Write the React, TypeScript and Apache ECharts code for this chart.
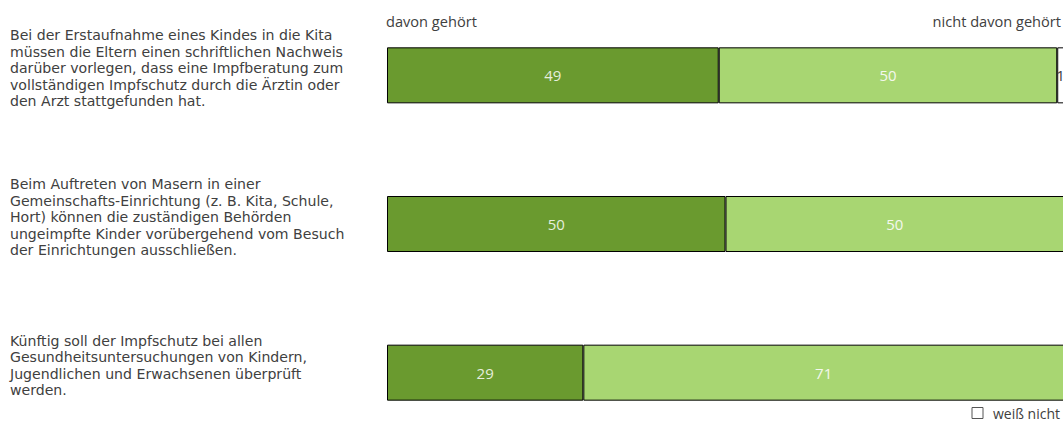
import React, { useEffect, useRef } from "react";
import * as echarts from "echarts";

const categories: string[] = [
  "Bei der Erstaufnahme eines Kindes in die Kita\nmüssen die Eltern einen schriftlichen Nachweis\ndarüber vorlegen, dass eine Impfberatung zum\nvollständigen Impfschutz durch die Ärztin oder\nden Arzt stattgefunden hat.",
  "Beim Auftreten von Masern in einer\nGemeinschafts-Einrichtung (z. B. Kita, Schule,\nHort) können die zuständigen Behörden\nungeimpfte Kinder vorübergehend vom Besuch\nder Einrichtungen ausschließen.",
  "Künftig soll der Impfschutz bei allen\nGesundheitsuntersuchungen von Kindern,\nJugendlichen und Erwachsenen überprüft\nwerden.",
];

const seriesNames: string[] = ["davon gehört", "nicht davon gehört", "weiß nicht"];
const davonGehoert: number[] = [49, 50, 29];
const nichtDavonGehoert: number[] = [50, 50, 71];
const weissNicht: number[] = [1, 0, 0];

const FONT = "'Open Sans', sans-serif";
const CAT_FONT = "'DejaVu Sans', sans-serif";
const TXT = "#404040";

export default function App() {
  const ref = useRef<HTMLDivElement>(null);
  useEffect(() => {
    if (!ref.current) return;
    const chart = echarts.init(ref.current, null, { renderer: "svg" });
    const mk = (name: string, data: number[], color: string, labelColor: string) => ({
      name,
      type: "bar" as const,
      stack: "total",
      data,
      barWidth: 56,
      xAxisIndex: 0,
      yAxisIndex: 0,
      itemStyle: { color, borderColor: "#000", borderWidth: 1 },
      label: {
        show: true,
        position: "inside" as const,
        color: labelColor,
        fontFamily: FONT,
        fontSize: 15,
        formatter: (p: any) => (p.value > 0 ? String(p.value) : ""),
      },
    });
    chart.setOption({
      animation: false,
      textStyle: { fontFamily: FONT },
      grid: [
        { left: 387, width: 677, top: 1, height: 446, outerBoundsMode: "none", containLabel: false },
        { left: 387, width: 677, top: -6, height: 446, outerBoundsMode: "none", containLabel: false },
      ],
      xAxis: [
        { type: "value", min: 0, max: 100, show: false, gridIndex: 0 },
        { type: "value", min: 0, max: 100, show: false, gridIndex: 1 },
      ],
      yAxis: [
        {
          type: "category",
          inverse: true,
          gridIndex: 0,
          data: categories,
          axisLine: { show: false },
          axisTick: { show: false },
          splitLine: { show: false },
          axisLabel: { show: false },
        },
        {
          type: "category",
          inverse: true,
          gridIndex: 1,
          data: categories,
          axisLine: { show: false },
          axisTick: { show: false },
          splitLine: { show: false },
          axisLabel: {
            align: "left",
            margin: 377,
            fontFamily: CAT_FONT,
            fontSize: 14.1,
            lineHeight: 16.5,
            color: TXT,
          },
        },
      ],
      legend: {
        data: [
          {
            name: "weiß nicht",
            itemStyle: { color: "#ffffff", borderColor: "#555555", borderWidth: 1 },
          },
        ],
        right: -2,
        bottom: -2,
        icon: "rect",
        itemWidth: 11,
        itemHeight: 11,
        itemGap: 8,
        textStyle: { fontFamily: FONT, fontSize: 14, color: TXT, padding: [0, 0, 0, 5] },
      },
      graphic: [
        {
          type: "text",
          left: 386,
          top: 13,
          style: { text: seriesNames[0], fontFamily: FONT, fontSize: 14.6, fill: TXT },
        },
        {
          type: "text",
          right: 2,
          top: 13,
          style: { text: seriesNames[1], fontFamily: FONT, fontSize: 14.6, fill: TXT },
        },
      ],
      series: [
        mk(seriesNames[0], davonGehoert, "#6a9a2f", "#e6eedc"),
        mk(seriesNames[1], nichtDavonGehoert, "#a8d672", "#f4f8ee"),
        mk(seriesNames[2], weissNicht, "#ffffff", TXT),
      ],
    });
    return () => chart.dispose();
  }, []);
  return (
    <div
      ref={ref}
      style={{ position: "absolute", left: 0, top: 0, width: 1063, height: 423, overflow: "hidden" }}
    />
  );
}
